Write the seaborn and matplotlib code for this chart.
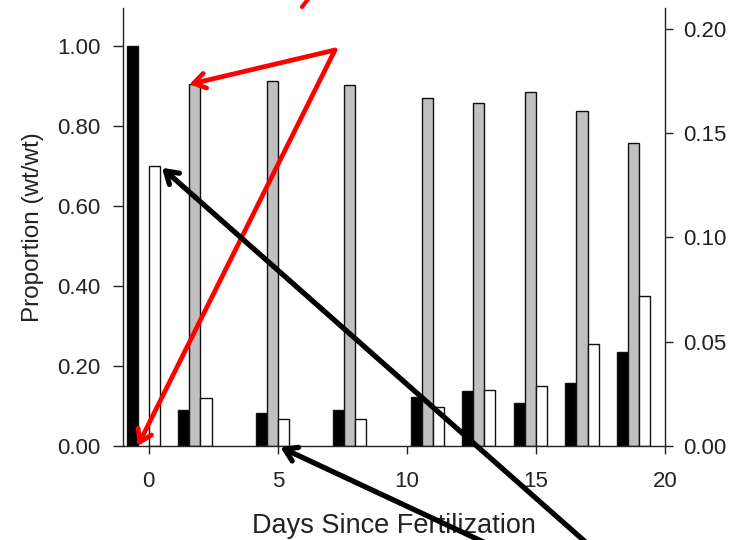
import numpy as np
import pandas as pd
import matplotlib
matplotlib.use("Agg")
import matplotlib.pyplot as plt
from matplotlib.lines import Line2D
from matplotlib.ticker import FormatStrFormatter
import seaborn as sns

# Days since fertilization and the three measured fractions per sampling day
days = [0, 2, 5, 8, 11, 13, 15, 17, 19]
black_frac = [1.00, 0.090, 0.082, 0.090, 0.123, 0.137, 0.108, 0.157, 0.236]
gray_frac = [np.nan, 0.904, 0.912, 0.902, 0.871, 0.857, 0.884, 0.837, 0.758]
white_frac = [0.700, 0.119, 0.067, 0.067, 0.098, 0.140, 0.150, 0.254, 0.375]

series_names = ["black", "gray", "white"]
series_colors = ["#000000", "#c0c0c0", "#ffffff"]

left_ticks = [0.0, 0.2, 0.4, 0.6, 0.8, 1.0]
right_ticks = [0.0, 0.05, 0.10, 0.15, 0.20]
x_ticks = [0, 5, 10, 15, 20]

sns.set_theme(style="ticks")
plt.rcParams["font.family"] = ["Liberation Sans", "DejaVu Sans"]

bar_w = 0.43  # width of a single bar in days

rows = []
for name, vals in zip(series_names, [black_frac, gray_frac, white_frac]):
    for d, v in zip(days, vals):
        if not np.isnan(v):
            rows.append({"day": d, "pos": d - bar_w / 2, "series": name, "value": v})
df = pd.DataFrame(rows)

fig = plt.figure(figsize=(7.32, 5.4), dpi=100)
ax = fig.add_axes([123 / 732, 94 / 540, 542 / 732, 438 / 540])

native_step = np.min(np.diff(sorted(set(days))))
sns.barplot(
    data=df, x="pos", y="value", hue="series",
    hue_order=series_names, palette=series_colors,
    native_scale=True, dodge=True, width=3 * bar_w / native_step,
    saturation=1, edgecolor="#111111", linewidth=1.0,
    errorbar=None, legend=False, ax=ax,
)

ylim_top = 1.095
ax.set_xlim(-1, 20)
ax.set_ylim(0, ylim_top)
ax.set_xticks(x_ticks)
ax.set_yticks(left_ticks)
ax.yaxis.set_major_formatter(FormatStrFormatter("%.2f"))
ax.set_xlabel("Days Since Fertilization", fontsize=19.5, labelpad=15, color="#222222")
ax.set_ylabel("Proportion (wt/wt)", fontsize=17.5, labelpad=10, color="#222222")
ax.tick_params(axis="both", labelsize=16, colors="#222222", direction="out",
               width=1, length=6, pad=12)
ax.tick_params(axis="y", length=7, pad=9)
for s in ["left", "bottom"]:
    ax.spines[s].set_color("#222222")
    ax.spines[s].set_linewidth(1)
ax.spines["top"].set_visible(False)
ax.spines["right"].set_visible(False)

# secondary scale on the right
ax2 = ax.twinx()
ax2.set_ylim(0, ylim_top * 0.2 / 1.0425)
ax2.set_yticks(right_ticks)
ax2.yaxis.set_major_formatter(FormatStrFormatter("%.2f"))
ax2.tick_params(axis="y", labelsize=16, colors="#222222", direction="out",
                width=1, length=6, pad=7)
ax2.spines["right"].set_color("#222222")
ax2.spines["right"].set_linewidth(1)
for s in ["top", "left", "bottom"]:
    ax2.spines[s].set_visible(False)
ax2.grid(False)

# callout arrows
red = "#ff0000"
red_style = dict(arrowstyle="->, head_length=0.7, head_width=0.45", color=red,
                 lw=3.4, shrinkA=0, shrinkB=0)
blk_style = dict(arrowstyle="->, head_length=0.7, head_width=0.45", color="black",
                 lw=3.8, shrinkA=0, shrinkB=2)

ax.annotate("", xy=(days[1] - bar_w, gray_frac[1]), xycoords="data",
            xytext=(335, 490), textcoords="figure pixels",
            arrowprops=red_style, annotation_clip=False)
ax.annotate("", xy=(days[0] - bar_w, 0), xycoords="data",
            xytext=(335, 490), textcoords="figure pixels",
            arrowprops=red_style, annotation_clip=False)
ax.annotate("", xy=(days[0] + bar_w, white_frac[0]), xycoords="data",
            xytext=(590, -6), textcoords="figure pixels",
            arrowprops=blk_style, annotation_clip=False)
ax.annotate("", xy=(5, 0), xycoords="data",
            xytext=(492, -6), textcoords="figure pixels",
            arrowprops=blk_style, annotation_clip=False)

# short red stroke at the top edge
fig.add_artist(Line2D([302 / 732, 309 / 732], [533 / 540, 542 / 540],
                      transform=fig.transFigure, color=red, lw=3))

fig.savefig("out.png", dpi=100)
